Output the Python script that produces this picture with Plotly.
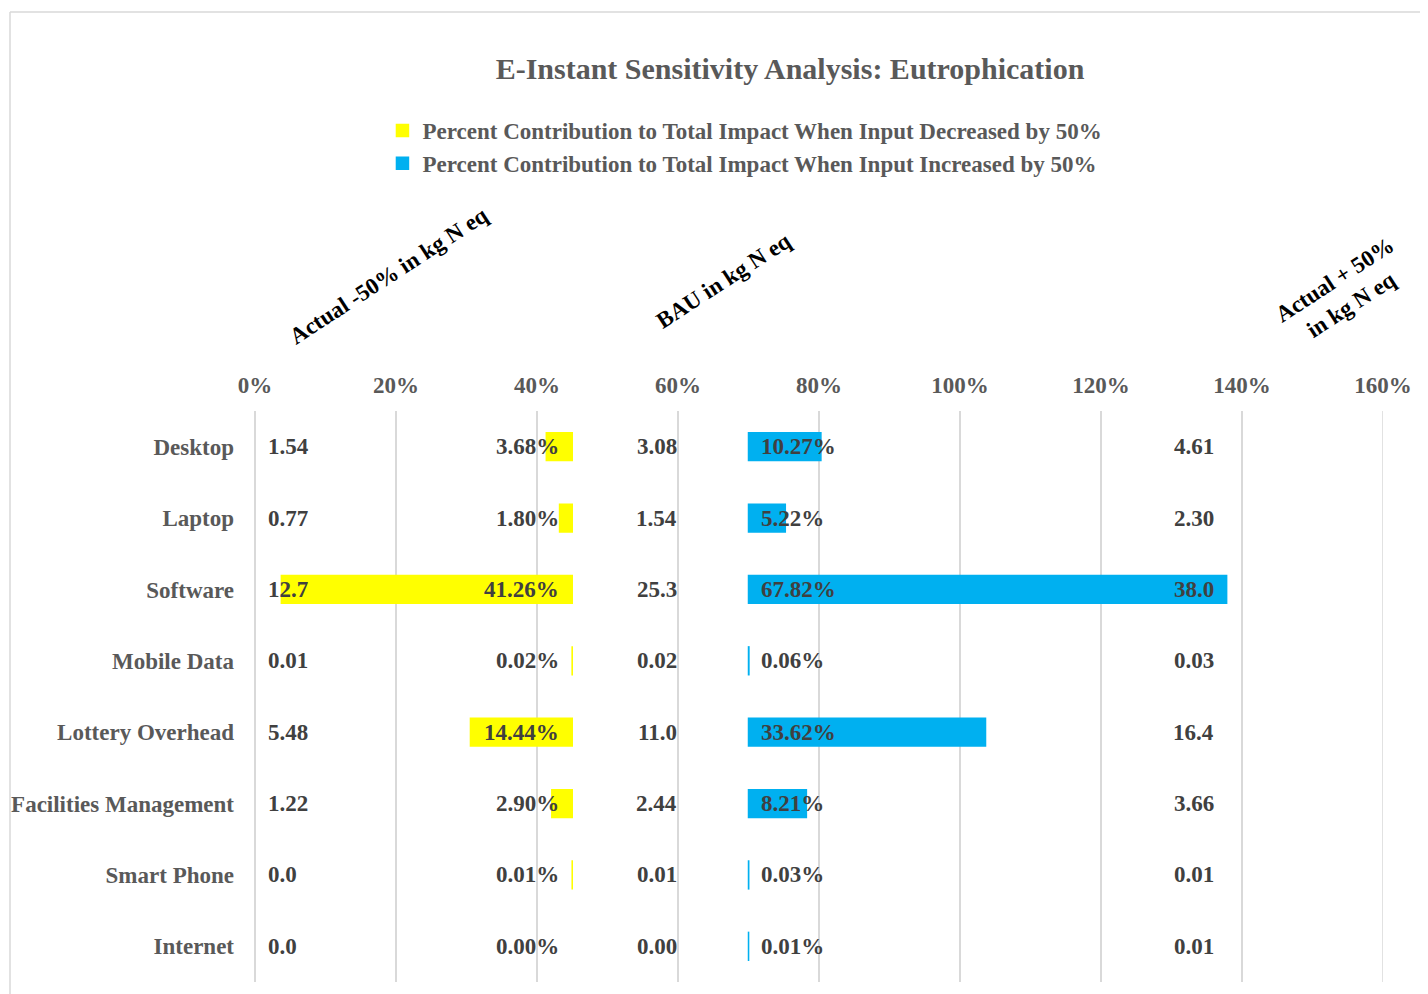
import plotly.graph_objects as go

categories = ["Desktop", "Laptop", "Software", "Mobile Data", "Lottery Overhead",
              "Facilities Management", "Smart Phone", "Internet"]
dec_pct = [3.68, 1.80, 41.26, 0.02, 14.44, 2.90, 0.01, 0.00]
inc_pct = [10.27, 5.22, 67.82, 0.06, 33.62, 8.21, 0.03, 0.01]
actual_minus = ["1.54", "0.77", "12.7", "0.01", "5.48", "1.22", "0.0", "0.0"]
bau = ["3.08", "1.54", "25.3", "0.02", "11.0", "2.44", "0.01", "0.00"]
actual_plus = ["4.61", "2.30", "38.0", "0.03", "16.4", "3.66", "0.01", "0.01"]
headers = ["Actual -50% in kg N eq", "BAU in kg N eq", "Actual + 50%<br>in kg N eq"]

YELLOW_END = 45
BLUE_START = 70
X_MAX = 160
FONT = "Liberation Serif"
GRAY = "#595959"
DARK = "#404040"
FS = 23

fig = go.Figure()
fig.add_trace(go.Bar(
    y=categories, x=dec_pct, base=[YELLOW_END - v for v in dec_pct], orientation="h",
    name="Percent Contribution to Total Impact When Input Decreased by 50%",
    marker=dict(color="#FFFF00", line=dict(color="#FFFF00", width=[1.5 if v > 0 else 0 for v in dec_pct])),
    width=0.39, legendgroup="a",
))
fig.add_trace(go.Bar(
    y=categories, x=inc_pct, base=BLUE_START, orientation="h",
    name="Percent Contribution to Total Impact When Input Increased by 50%",
    marker=dict(color="#00B0F0", line=dict(color="#00B0F0", width=[1.5 if v > 0 else 0 for v in inc_pct])),
    width=0.39, legendgroup="b",
))

annotations = []
lab_font = dict(family=FONT, size=FS, color=DARK, weight="bold")
for i, c in enumerate(categories):
    annotations.append(dict(x=1.5, y=c, text=actual_minus[i], xanchor="left", showarrow=False, font=lab_font))
    annotations.append(dict(x=43.4, y=c, text=f"{dec_pct[i]:.2f}%", xanchor="right", showarrow=False, font=lab_font))
    annotations.append(dict(x=60.2, y=c, text=bau[i], xanchor="right", showarrow=False, font=lab_font))
    annotations.append(dict(x=71.5, y=c, text=f"{inc_pct[i]:.2f}%", xanchor="left", showarrow=False, font=lab_font))
    annotations.append(dict(x=136.3, y=c, text=actual_plus[i], xanchor="right", showarrow=False, font=lab_font))

hdr_font = dict(family=FONT, size=FS, color="#000000", weight="bold")
for hx, hy, t in zip([19.0, 66.5, 154.3], [1.238, 1.229, 1.208], headers):
    annotations.append(dict(x=hx, xref="x", y=hy, yref="paper", text=t, textangle=-33,
                            showarrow=False, font=hdr_font, xanchor="center", yanchor="middle"))

W, H = 1420, 986
fig.update_layout(
    width=W, height=H,
    margin=dict(l=247, r=45, t=403, b=12, autoexpand=False),
    paper_bgcolor="white", plot_bgcolor="white",
    barmode="overlay",
    title=dict(text="E-Instant Sensitivity Analysis: Eutrophication", x=(790 - 8) / W, xanchor="center",
               y=1 - 60 / H, yanchor="middle", yref="container",
               font=dict(family=FONT, size=30, color=GRAY, weight="bold")),
    legend=dict(orientation="v", x=0.113, xanchor="left", y=1.529, yanchor="top",
                font=dict(family=FONT, size=FS, color=GRAY, weight="bold"),
                traceorder="grouped", tracegroupgap=0, bgcolor="rgba(0,0,0,0)"),
    xaxis=dict(range=[0, X_MAX], dtick=20, side="top", ticksuffix="%", showgrid=True,
               gridcolor="#D9D9D9", gridwidth=1.5, zeroline=True, zerolinecolor="#D9D9D9",
               zerolinewidth=1.5, showline=False, ticks="", ticklabelstandoff=12, automargin=False,
               tickfont=dict(family=FONT, size=FS, color=GRAY, weight="bold"), fixedrange=True),
    yaxis=dict(autorange="reversed", showgrid=False, zeroline=False, showline=False, ticks="",
               ticklabelstandoff=20, automargin=False,
               tickfont=dict(family=FONT, size=FS, color=GRAY, weight="bold")),
    annotations=annotations,
    shapes=[
        dict(type="line", xref="x", yref="paper", x0=X_MAX, x1=X_MAX, y0=0, y1=1,
             line=dict(color="#D9D9D9", width=1.5), layer="below"),
        dict(type="line", xref="paper", yref="paper", x0=(10 - 255) / 1128, x1=1.2,
             y0=(982 - 12) / 571, y1=(982 - 12) / 571, line=dict(color="#D9D9D9", width=1.5)),
        dict(type="line", xref="paper", yref="paper", x0=(10 - 255) / 1128, x1=(10 - 255) / 1128,
             y0=(982 - 12) / 571, y1=-0.03, line=dict(color="#D9D9D9", width=1.5)),
    ],
)

fig.write_html("out.html")
